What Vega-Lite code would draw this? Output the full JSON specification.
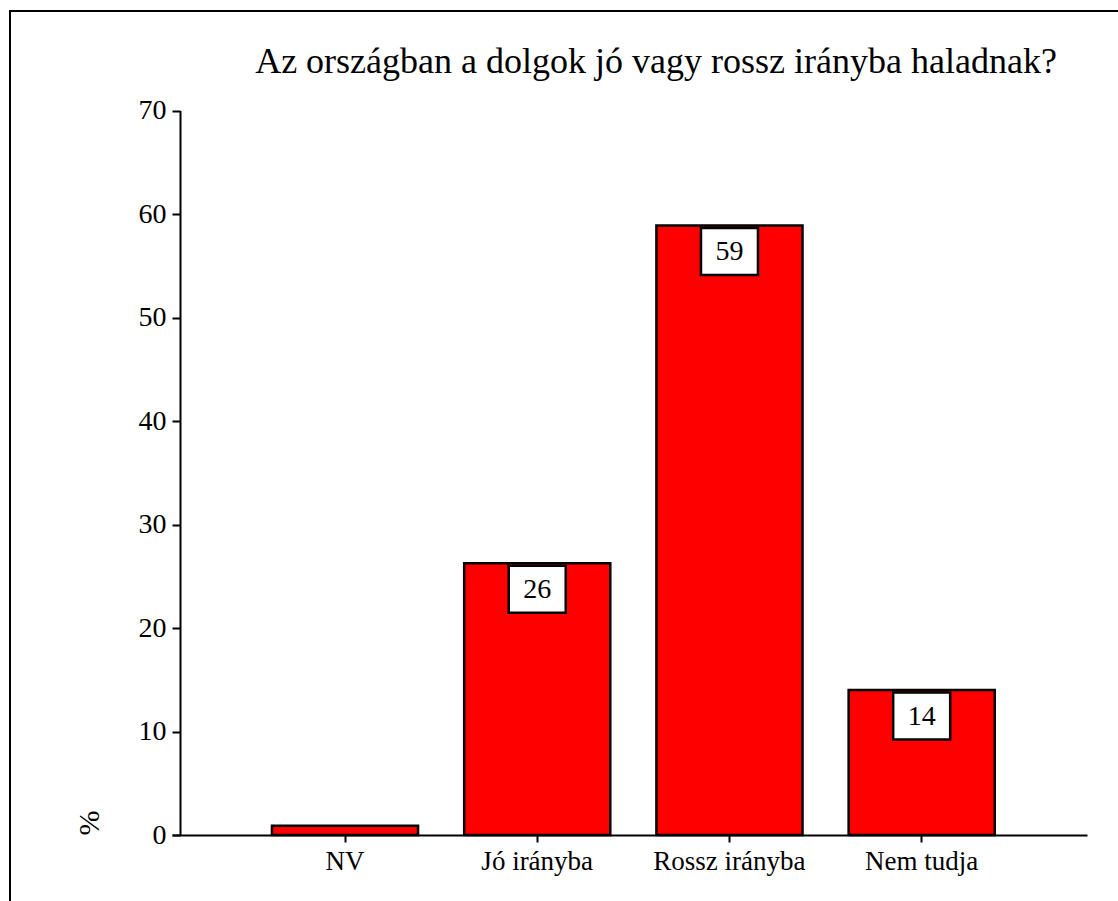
{
  "$schema": "https://vega.github.io/schema/vega-lite/v6.json",
  "width": 1112,
  "height": 894,
  "autosize": {"type": "none"},
  "padding": {"left": 10, "top": 11, "right": 0, "bottom": 0},
  "background": "white",
  "config": {
    "view": {"stroke": "black", "strokeWidth": 2},
    "font": "Liberation Serif"
  },
  "title": {
    "text": "Az országban a dolgok jó vagy rossz irányba haladnak?",
    "font": "Liberation Serif",
    "fontSize": 36,
    "fontWeight": "normal",
    "color": "black",
    "anchor": "middle",
    "baseline": "alphabetic",
    "offset": 0,
    "dx": 90,
    "dy": 98
  },
  "data": {
    "values": [
      {"cat": "NV", "pct": 0.9, "label": ""},
      {"cat": "Jó irányba", "pct": 26.25, "label": "26"},
      {"cat": "Rossz irányba", "pct": 58.9, "label": "59"},
      {"cat": "Nem tudja", "pct": 14.0, "label": "14"}
    ]
  },
  "encoding": {
    "x": {
      "field": "cat",
      "type": "nominal",
      "sort": null,
      "scale": {"range": [162, 1077], "paddingInner": 0.24, "paddingOuter": 0.5, "align": 0.52},
      "axis": {
        "title": null,
        "offset": -70,
        "labelAngle": 0,
        "labelFont": "Liberation Serif",
        "labelFontSize": 27,
        "labelColor": "black",
        "labelPadding": 6,
        "domainColor": "black",
        "domainWidth": 2,
        "tickColor": "black",
        "tickWidth": 2,
        "tickSize": 7,
        "grid": false
      }
    },
    "y": {
      "field": "pct",
      "type": "quantitative",
      "scale": {"domain": [0, 70], "range": [824, 99.5], "nice": false},
      "axis": {
        "title": "%",
        "titleAngle": -90,
        "titleAnchor": "start",
        "titleFont": "Liberation Serif",
        "titleFontSize": 30,
        "titleFontWeight": "normal",
        "titleColor": "black",
        "titlePadding": 34,
        "offset": -170,
        "values": [0, 10, 20, 30, 40, 50, 60, 70],
        "labelFont": "Liberation Serif",
        "labelFontSize": 28,
        "labelColor": "black",
        "labelPadding": 6,
        "domainColor": "black",
        "domainWidth": 2,
        "tickColor": "black",
        "tickWidth": 2,
        "tickSize": 8,
        "grid": false
      }
    }
  },
  "layer": [
    {
      "mark": {"type": "bar", "fill": "#ff0000", "stroke": "black", "strokeWidth": 2.5}
    },
    {
      "transform": [{"filter": "datum.label != ''"}],
      "mark": {
        "type": "point",
        "shape": "M-1,-0.8246H1V0.8246H-1Z",
        "size": 3249,
        "filled": true,
        "fill": "white",
        "stroke": "black",
        "strokeWidth": 2.5,
        "opacity": 1,
        "yOffset": 26
      }
    },
    {
      "transform": [{"filter": "datum.label != ''"}],
      "mark": {
        "type": "text",
        "font": "Liberation Serif",
        "fontSize": 28,
        "color": "black",
        "baseline": "alphabetic",
        "align": "center",
        "yOffset": 35
      },
      "encoding": {"text": {"field": "label"}}
    }
  ]
}
